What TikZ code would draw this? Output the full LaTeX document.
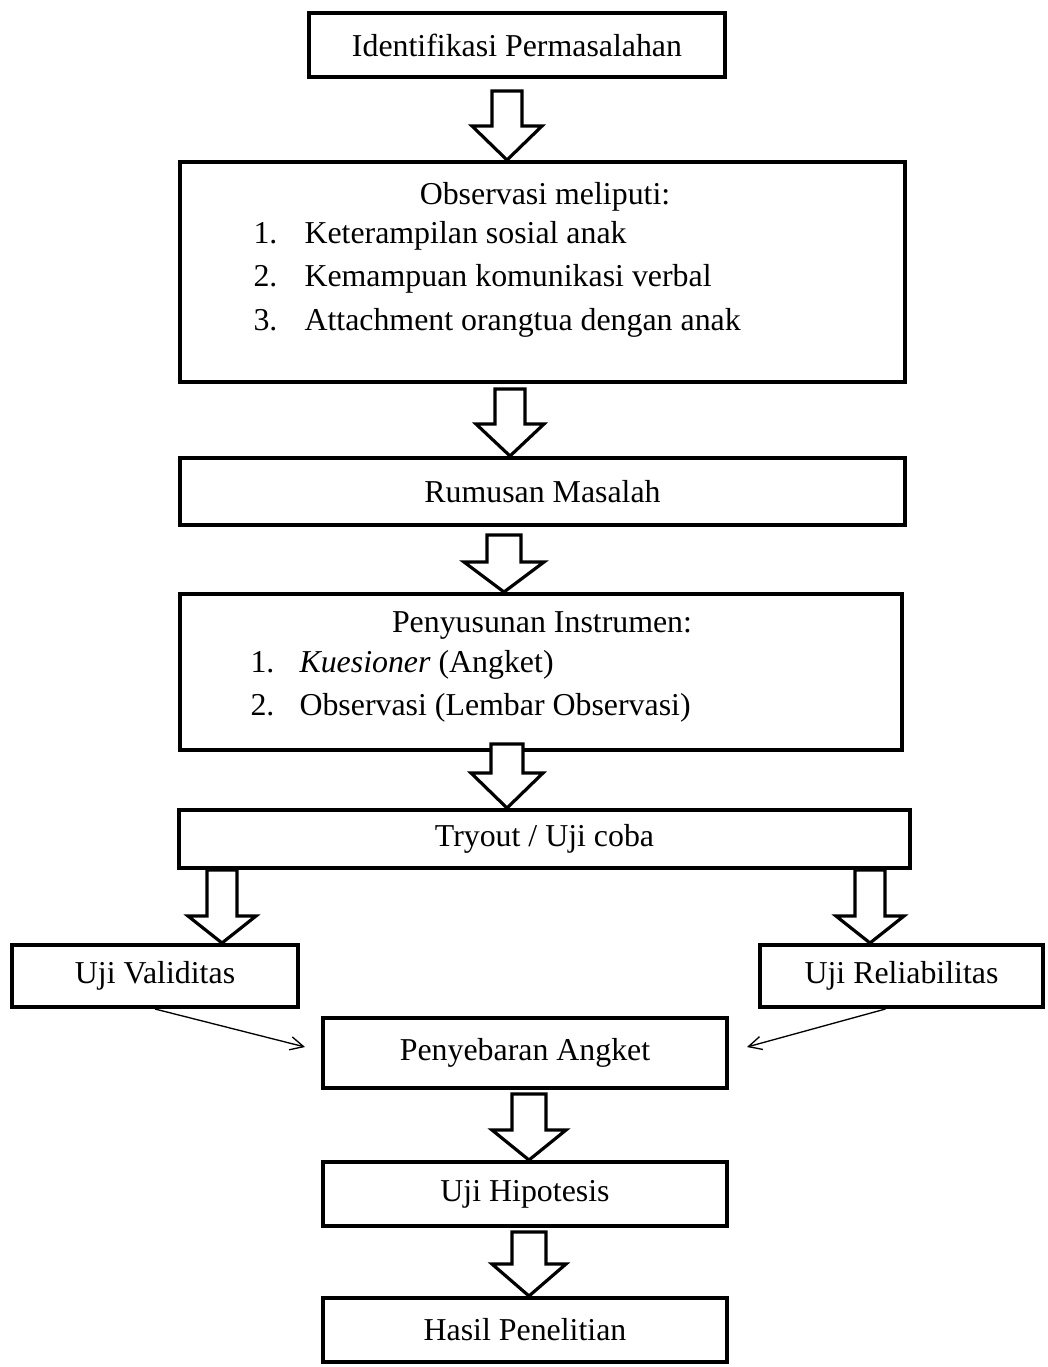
\documentclass[tikz,border=0pt]{standalone}
\usepackage{fontspec}
\setmainfont{Liberation Serif}
\usetikzlibrary{calc,arrows.meta}
\def\u{0.3766pt}
\tikzset{
  box/.style={draw=black, line width=1.5pt, fill=white, inner sep=0pt, rectangle},
  blockarrow/.style={draw=black, line width=1.2pt, fill=white, line join=miter},
  thinarrow/.style={draw=black, line width=0.5pt, -{Straight Barb[length=5pt,width=5pt]}},
  txt/.style={inner sep=0pt, anchor=base, font=\fontsize{12}{14}\selectfont},
}
\newcommand\bx[6]{\node[box, minimum width=#4*\u, minimum height=#5*\u, font=\fontsize{12}{14}\selectfont] (#1) at (#2,#3) {#6};}
% #1 x centre, #2 from node, #3 to node, #4 shaft top offset, #5 shaft half width, #6 head half width, #7 head length
\newcommand\blk[7]{%
  \coordinate (bA) at (#1,0);
  \draw[blockarrow] ($(bA |- #2.south)+(-#5,#4)$) -- ($(bA |- #3.north)+(-#5,-#7)$) -- ($(bA |- #3.north)+(-#6,-#7)$) -- (bA |- #3.north) -- ($(bA |- #3.north)+(#6,-#7)$) -- ($(bA |- #3.north)+(#5,-#7)$) -- ($(bA |- #2.south)+(#5,#4)$) -- cycle;}
\begin{document}
\begin{tikzpicture}[x=0.3766pt, y=-0.3766pt]
\fill[white] (0,0) rectangle (1047,1367);
\useasboundingbox (0,0) rectangle (1047,1367);
\bx{ident}{517}{45}{416}{64}{Identifikasi Permasalahan}
\bx{obs}{542.5}{272}{725}{220}{}
\bx{rum}{542.5}{491.5}{725}{67}{Rumusan Masalah}
\bx{pen}{541}{672}{722}{156}{}
\bx{try}{544.5}{839}{731}{58}{Tryout / Uji coba}
\bx{val}{155}{976}{286}{62}{Uji Validitas}
\bx{rel}{901.5}{976}{283}{62}{Uji Reliabilitas}
\bx{sebar}{525}{1053}{404}{70}{Penyebaran Angket}
\bx{hip}{525}{1194}{404}{64}{Uji Hipotesis}
\bx{hasil}{525}{1330}{404}{64}{Hasil Penelitian}
% texts in observasi box
\node[txt] (obsh) at (545,205) {Observasi meliputi:};
\node[txt, anchor=base west] (o1n) at (253,244) {1.};
\node[txt, anchor=base west] (o1) at (304,244) {Keterampilan sosial anak};
\node[txt, anchor=base west] (o2n) at (253,287) {2.};
\node[txt, anchor=base west] (o2) at (304,287) {Kemampuan komunikasi verbal};
\node[txt, anchor=base west] (o3n) at (253,330) {3.};
\node[txt, anchor=base west] (o3) at (304,330) {Attachment orangtua dengan anak};
% texts in penyusunan box
\node[txt] (penh) at (542,632) {Penyusunan Instrumen:};
\node[txt, anchor=base west] (p1n) at (250,672) {1.};
\node[txt, anchor=base west] (p1) at (299,672) {\textit{Kuesioner} (Angket)};
\node[txt, anchor=base west] (p2n) at (250,715) {2.};
\node[txt, anchor=base west] (p2) at (299,715) {Observasi (Lembar Observasi)};
% block arrows
\blk{507}{ident}{obs}{12}{15}{35}{34}
\blk{510}{obs}{rum}{5}{15}{34}{32}
\blk{504}{rum}{pen}{8}{17}{40}{30}
\blk{507}{pen}{try}{-8}{16}{36}{35}
\blk{222}{try}{val}{0}{15}{34}{27}
\blk{870}{try}{rel}{0}{15}{34}{27}
\blk{529}{sebar}{hip}{4}{17}{37}{30}
\blk{529}{hip}{hasil}{4}{17}{37}{32}
% thin arrows
\draw[thinarrow] (val.south) -- ($(sebar.west)+(-16,-6)$);
\draw[thinarrow] ($(rel.south)+(-16,0)$) -- ($(sebar.east)+(18,-6)$);
\end{tikzpicture}
\end{document}
